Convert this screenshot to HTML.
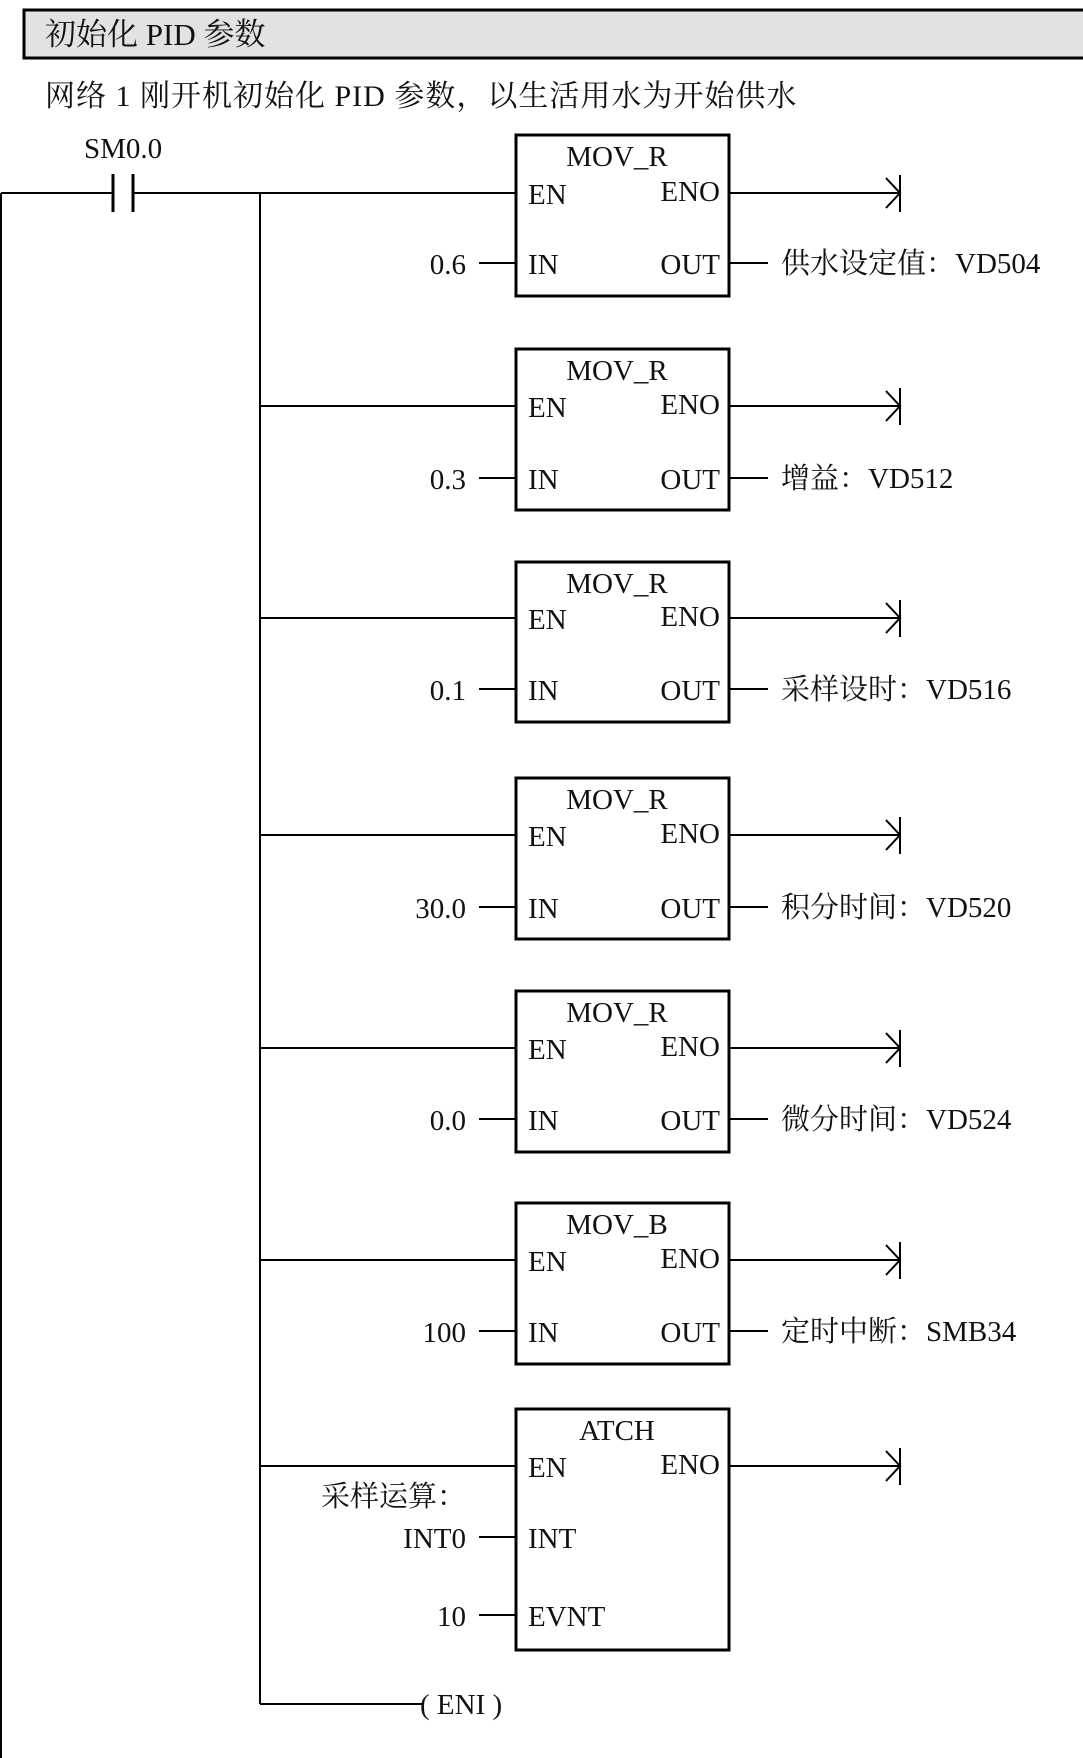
<!DOCTYPE html>
<html><head><meta charset="utf-8"><style>
html,body{margin:0;padding:0;background:#fff;}
svg{display:block;}
text{font-family:"Liberation Serif","Noto Serif CJK SC",serif;font-size:29px;fill:#111;}
</style></head><body>
<svg width="1083" height="1758" viewBox="0 0 1083 1758" xmlns="http://www.w3.org/2000/svg">
<rect x="24" y="10" width="1070" height="48" fill="#e2e2e2" stroke="#000" stroke-width="3"/>
<text x="45" y="45" style="font-size:31px">初始化 PID 参数</text>
<text x="45" y="106" style="font-size:30px;letter-spacing:1px">网络 1  刚开机初始化 PID 参数，以生活用水为开始供水</text>
<g stroke="#000" stroke-width="2" fill="none">
<line x1="1" y1="193" x2="1" y2="1758"/>
<line x1="1" y1="193" x2="113" y2="193"/>
<line x1="113" y1="174" x2="113" y2="212" stroke-width="3"/>
<line x1="133" y1="174" x2="133" y2="212" stroke-width="3"/>
<line x1="133" y1="193" x2="516" y2="193"/>
<line x1="260" y1="193" x2="260" y2="1704"/>
<line x1="260" y1="1704" x2="422" y2="1704"/>
</g>
<text x="84" y="158">SM0.0</text>
<text x="420" y="1714">( ENI )</text>
<g stroke="#000" fill="none" stroke-width="2">
<rect x="516" y="135" width="213" height="161" stroke-width="3"/>
<rect x="516" y="349" width="213" height="161" stroke-width="3"/>
<rect x="516" y="562" width="213" height="160" stroke-width="3"/>
<rect x="516" y="778" width="213" height="161" stroke-width="3"/>
<rect x="516" y="991" width="213" height="161" stroke-width="3"/>
<rect x="516" y="1203" width="213" height="161" stroke-width="3"/>
<rect x="516" y="1409" width="213" height="241" stroke-width="3"/>
<path d="M260 406H516M260 618H516M260 835H516M260 1048H516M260 1260H516M260 1466H516"/>
<path d="M729 193H900M729 406H900M729 618H900M729 835H900M729 1048H900M729 1260H900M729 1466H900"/>
<path d="M900 175V212M900 388V425M900 600V637M900 817V854M900 1030V1067M900 1242V1279M900 1448V1485"/>
<path d="M886 178L900 193L886 208M886 391L900 406L886 421M886 603L900 618L886 633M886 820L900 835L886 850M886 1033L900 1048L886 1063M886 1245L900 1260L886 1275M886 1451L900 1466L886 1481"/>
<path d="M479 263H516M479 478H516M479 689H516M479 907H516M479 1119H516M479 1331H516M479 1537H516M479 1615H516"/>
<path d="M729 263H768M729 478H768M729 689H768M729 907H768M729 1119H768M729 1331H768"/>
</g>
<g text-anchor="middle">
<text x="617" y="166">MOV_R</text>
<text x="617" y="380">MOV_R</text>
<text x="617" y="593">MOV_R</text>
<text x="617" y="809">MOV_R</text>
<text x="617" y="1022">MOV_R</text>
<text x="617" y="1234">MOV_B</text>
<text x="617" y="1440">ATCH</text>
</g>
<g>
<text x="528" y="204">EN</text><text x="528" y="274">IN</text>
<text x="528" y="417">EN</text><text x="528" y="489">IN</text>
<text x="528" y="629">EN</text><text x="528" y="700">IN</text>
<text x="528" y="846">EN</text><text x="528" y="918">IN</text>
<text x="528" y="1059">EN</text><text x="528" y="1130">IN</text>
<text x="528" y="1271">EN</text><text x="528" y="1342">IN</text>
<text x="528" y="1477">EN</text><text x="528" y="1548">INT</text><text x="528" y="1626">EVNT</text>
</g>
<g text-anchor="end">
<text x="720" y="201">ENO</text><text x="720" y="274">OUT</text>
<text x="720" y="414">ENO</text><text x="720" y="489">OUT</text>
<text x="720" y="626">ENO</text><text x="720" y="700">OUT</text>
<text x="720" y="843">ENO</text><text x="720" y="918">OUT</text>
<text x="720" y="1056">ENO</text><text x="720" y="1130">OUT</text>
<text x="720" y="1268">ENO</text><text x="720" y="1342">OUT</text>
<text x="720" y="1474">ENO</text>
<text x="466" y="274">0.6</text>
<text x="466" y="489">0.3</text>
<text x="466" y="700">0.1</text>
<text x="466" y="918">30.0</text>
<text x="466" y="1130">0.0</text>
<text x="466" y="1342">100</text>
<text x="466" y="1506">采样运算：</text>
<text x="466" y="1548">INT0</text>
<text x="466" y="1626">10</text>
</g>
<g style="font-size:30px">
<text x="781" y="273">供水设定值：VD504</text>
<text x="781" y="488">增益：VD512</text>
<text x="781" y="699">采样设时：VD516</text>
<text x="781" y="917">积分时间：VD520</text>
<text x="781" y="1129">微分时间：VD524</text>
<text x="781" y="1341">定时中断：SMB34</text>
</g>
</svg>
</body></html>
